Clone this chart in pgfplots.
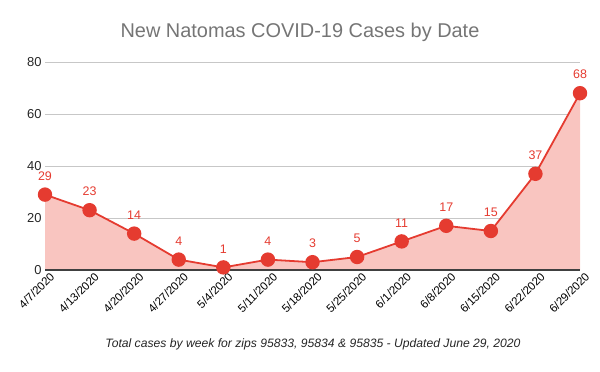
\documentclass[border=0pt]{standalone}
\usepackage{pgfplots}
\pgfplotsset{compat=1.18}
\usepackage{fontspec}
\setmainfont{Liberation Sans}
\definecolor{gred}{HTML}{E53B30}
\definecolor{gfill}{HTML}{F9C5C0}
\definecolor{gtitle}{HTML}{757575}
\begin{document}
\begin{tikzpicture}[x=1bp,y=1bp]
\path[use as bounding box] (0,0) rectangle (600,371);
\node[font=\fontsize{20}{22}\selectfont, text=gtitle] at (300,339) {New Natomas COVID-19 Cases by Date};
\node[font=\fontsize{12.2}{14}\selectfont\itshape, text=black!85] at (313,27) {Total cases by week for zips 95833, 95834 \& 95835 - Updated June 29, 2020};
\begin{axis}[
  at={(45bp,101bp)}, anchor=south west,
  scale only axis, width=535bp, height=208bp,
  xmin=0, xmax=12, ymin=0, ymax=80,
  ytick={0,20,40,60,80},
  xtick={0,...,12},
  xticklabels={4/7/2020,4/13/2020,4/20/2020,4/27/2020,5/4/2020,5/11/2020,5/18/2020,5/25/2020,6/1/2020,6/8/2020,6/15/2020,6/22/2020,6/29/2020},
  x tick label style={rotate=45, anchor=north east, font=\fontsize{11.5}{12}\selectfont, inner sep=1pt, yshift=-3pt, xshift=3pt},
  y tick label style={font=\fontsize{13}{14}\selectfont, text=black!85},
  /pgf/number format/assume math mode=true,
  ymajorgrids, grid style={draw=black!22, line width=0.7pt},
  axis line style={draw=none},
  major tick length=0pt,
  clip=false,
  every node near coord/.append style={font=\fontsize{12.5}{14}\selectfont, text=gred, yshift=10pt},
]
\addplot[draw=none, fill=gfill, forget plot] table {
x y
0 29
1 23
2 14
3 4
4 1
5 4
6 3
7 5
8 11
9 17
10 15
11 37
12 68
} \closedcycle;
\draw[black!75, line width=1.2pt] (axis cs:0,0) -- (axis cs:12,0);
\addplot[gred, line width=1.8pt, mark=*, mark size=6.3bp, mark options={fill=gred, draw=gred}, nodes near coords] table {
x y
0 29
1 23
2 14
3 4
4 1
5 4
6 3
7 5
8 11
9 17
10 15
11 37
12 68
};
\end{axis}
\end{tikzpicture}
\end{document}
